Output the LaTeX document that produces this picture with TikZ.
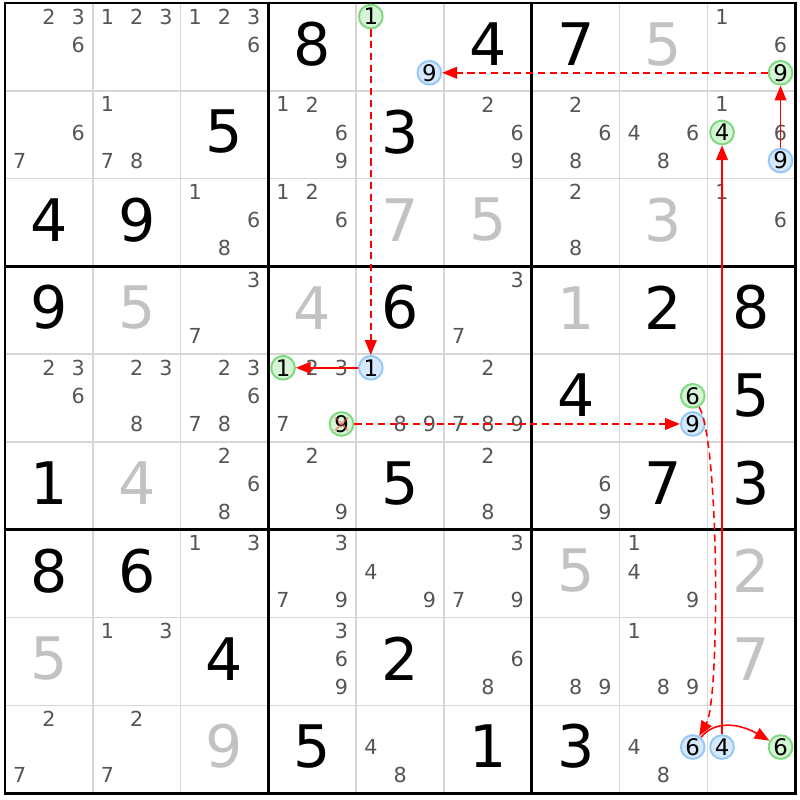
\documentclass[tikz,border=0pt]{standalone}
\usepackage{fontspec}
\setmainfont{DejaVu Sans}
\usetikzlibrary{arrows.meta}
\definecolor{candgray}{HTML}{555555}
\definecolor{solvgray}{HTML}{C2C2C2}
\definecolor{thingray}{HTML}{D6D6D6}
\definecolor{grfill}{HTML}{D5F5D5}
\definecolor{grline}{HTML}{80D880}
\definecolor{blfill}{HTML}{D5E8FC}
\definecolor{blline}{HTML}{96C8F5}
\tikzset{%
  given/.style  = {font=\fontsize{19}{19}\selectfont, inner sep=0pt},%
  solved/.style = {given, text=solvgray},%
  cand/.style   = {font=\fontsize{6.7}{7}\selectfont, text=candgray, inner sep=0pt},%
  hilite/.style = {circle, inner sep=0pt, minimum size=2.7mm, line width=0.65pt,%
                   font=\fontsize{7.4}{7}\selectfont},%
  greenc/.style = {hilite, draw=grline, fill=grfill},%
  bluec/.style  = {hilite, draw=blline, fill=blfill},%
  link/.style   = {red, line width=0.5pt, -{Triangle[length=4.8pt,width=3.8pt]}},%
  weak/.style   = {link, dash pattern=on 2.3pt off 1.5pt}%
}
% candidates of cell (row,col)
\newcommand{\cands}[3]{%
  \foreach \d in {#3}{%
    \pgfmathtruncatemacro{\cx}{mod(\d-1,3)}%
    \pgfmathtruncatemacro{\cy}{div(\d-1,3)}%
    \node[cand] (c#1#2-\d) at ({#2-1+(\cx+0.5)/3},{-(#1-1)-0.155-0.32*\cy}) {\d};}}
% one highlighted candidate: style, prefix, row, col, digit
\newcommand{\hcand}[5]{%
  \pgfmathtruncatemacro{\cx}{mod(#5-1,3)}%
  \pgfmathtruncatemacro{\cy}{div(#5-1,3)}%
  \node[#1] (#2#3#4-#5) at ({#4-1+(\cx+0.5)/3},{-(#3-1)-0.155-0.32*\cy}) {#5};}
\begin{document}
\begin{tikzpicture}
	\useasboundingbox (-0.057,0.034) rectangle (9.055,-9.077);
	% grid
	\foreach \i in {1,2,4,5,7,8}{
		\draw [thingray, line width=0.55pt] (\i,0) -- (\i,-9);
		\draw [thingray, line width=0.55pt] (0,-\i) -- (9,-\i);
	}
	\foreach \i in {0,3,6,9}{
		\draw [black, line width=0.95pt] (\i,0.016) -- (\i,-9.016);
		\draw [black, line width=0.95pt] (-0.016,-\i) -- (9.016,-\i);
	}
	% given digits
	\node [given] (v14) at (3.5,-0.47) {8};
	\node [given] (v16) at (5.5,-0.47) {4};
	\node [given] (v17) at (6.5,-0.47) {7};
	\node [given] (v23) at (2.5,-1.47) {5};
	\node [given] (v25) at (4.5,-1.47) {3};
	\node [given] (v31) at (0.5,-2.47) {4};
	\node [given] (v32) at (1.5,-2.47) {9};
	\node [given] (v41) at (0.5,-3.47) {9};
	\node [given] (v45) at (4.5,-3.47) {6};
	\node [given] (v48) at (7.5,-3.47) {2};
	\node [given] (v49) at (8.5,-3.47) {8};
	\node [given] (v57) at (6.5,-4.47) {4};
	\node [given] (v59) at (8.5,-4.47) {5};
	\node [given] (v61) at (0.5,-5.47) {1};
	\node [given] (v65) at (4.5,-5.47) {5};
	\node [given] (v68) at (7.5,-5.47) {7};
	\node [given] (v69) at (8.5,-5.47) {3};
	\node [given] (v71) at (0.5,-6.47) {8};
	\node [given] (v72) at (1.5,-6.47) {6};
	\node [given] (v83) at (2.5,-7.47) {4};
	\node [given] (v85) at (4.5,-7.47) {2};
	\node [given] (v94) at (3.5,-8.47) {5};
	\node [given] (v96) at (5.5,-8.47) {1};
	\node [given] (v97) at (6.5,-8.47) {3};
	% solved digits
	\node [solved] (s18) at (7.5,-0.47) {5};
	\node [solved] (s35) at (4.5,-2.47) {7};
	\node [solved] (s36) at (5.5,-2.47) {5};
	\node [solved] (s38) at (7.5,-2.47) {3};
	\node [solved] (s42) at (1.5,-3.47) {5};
	\node [solved] (s44) at (3.5,-3.47) {4};
	\node [solved] (s47) at (6.5,-3.47) {1};
	\node [solved] (s62) at (1.5,-5.47) {4};
	\node [solved] (s77) at (6.5,-6.47) {5};
	\node [solved] (s79) at (8.5,-6.47) {2};
	\node [solved] (s81) at (0.5,-7.47) {5};
	\node [solved] (s89) at (8.5,-7.47) {7};
	\node [solved] (s93) at (2.5,-8.47) {9};
	% candidates
	\cands{1}{1}{2,3,6}
	\cands{1}{2}{1,2,3}
	\cands{1}{3}{1,2,3,6}
	\cands{1}{9}{1,6}
	\cands{2}{1}{6,7}
	\cands{2}{2}{1,7,8}
	\cands{2}{4}{1,2,6,9}
	\cands{2}{6}{2,6,9}
	\cands{2}{7}{2,6,8}
	\cands{2}{8}{4,6,8}
	\cands{2}{9}{1,6}
	\cands{3}{3}{1,6,8}
	\cands{3}{4}{1,2,6}
	\cands{3}{7}{2,8}
	\cands{3}{9}{1,6}
	\cands{4}{3}{3,7}
	\cands{4}{6}{3,7}
	\cands{5}{1}{2,3,6}
	\cands{5}{2}{2,3,8}
	\cands{5}{3}{2,3,6,7,8}
	\cands{5}{4}{2,3,7}
	\cands{5}{5}{8,9}
	\cands{5}{6}{2,7,8,9}
	\cands{6}{3}{2,6,8}
	\cands{6}{4}{2,9}
	\cands{6}{6}{2,8}
	\cands{6}{7}{6,9}
	\cands{7}{3}{1,3}
	\cands{7}{4}{3,7,9}
	\cands{7}{5}{4,9}
	\cands{7}{6}{3,7,9}
	\cands{7}{8}{1,4,9}
	\cands{8}{2}{1,3}
	\cands{8}{4}{3,6,9}
	\cands{8}{6}{6,8}
	\cands{8}{7}{8,9}
	\cands{8}{8}{1,8,9}
	\cands{9}{1}{2,7}
	\cands{9}{2}{2,7}
	\cands{9}{5}{4,8}
	\cands{9}{8}{4,8}
	% chain
	\hcand{greenc}{g}{1}{5}{1}
	\hcand{bluec}{b}{1}{5}{9}
	\hcand{greenc}{g}{1}{9}{9}
	\hcand{greenc}{g}{2}{9}{4}
	\hcand{bluec}{b}{2}{9}{9}
	\hcand{greenc}{g}{5}{4}{1}
	\hcand{greenc}{g}{5}{4}{9}
	\hcand{bluec}{b}{5}{5}{1}
	\hcand{greenc}{g}{5}{8}{6}
	\hcand{bluec}{b}{5}{8}{9}
	\hcand{bluec}{b}{9}{8}{6}
	\hcand{bluec}{b}{9}{9}{4}
	\hcand{greenc}{g}{9}{9}{6}
	\draw [red!70, opacity=0.5, line width=0.6pt, shorten <=1.2pt, shorten >=1.2pt]
		(g54-9.north west) -- (g54-9.south east);
	\draw [red!70, opacity=0.5, line width=0.6pt, shorten <=1.2pt, shorten >=1.2pt]
		(g54-9.north east) -- (g54-9.south west);
	\draw [link] (b99-4) -- (g29-4);
	\draw [link] (b29-9) -- (g19-9);
	\draw [weak] (g19-9) -- (b15-9);
	\draw [weak] (g15-1) -- (b55-1);
	\draw [link] (b55-1) -- (g54-1);
	\draw [weak] (g54-9) -- (b58-9);
	\draw [weak] (g58-6) to[out=-60,in=60,looseness=0.32] (b98-6);
	\draw [link] (b98-6) to[out=50,in=150] (g99-6);
\end{tikzpicture}
\end{document}
